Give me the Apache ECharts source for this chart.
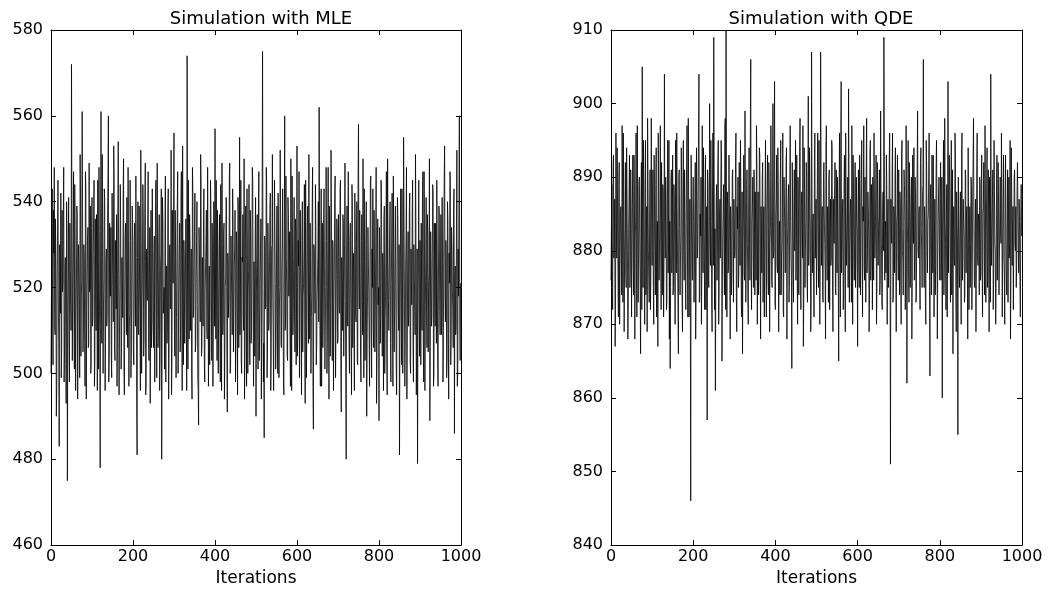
<!DOCTYPE html>
<html>
<head>
<meta charset="utf-8">
<script src="https://cdn.jsdelivr.net/npm/echarts@6/dist/echarts.min.js"></script>
<style>html,body{margin:0;padding:0;background:#fff}#c{width:1052px;height:592px}</style>
</head>
<body>
<div id="c"></div>
<script>
var titles = ['Simulation with MLE', 'Simulation with QDE'];
var xName = 'Iterations';
var xTicks = [0, 200, 400, 600, 800, 1000];
var yTicksMLE = [460, 480, 500, 520, 540, 560, 580];
var yTicksQDE = [840, 850, 860, 870, 880, 890, 900, 910];

// MLE chain, values read at even iterations (0, 2, 4, ...)
var mleEven = [
500,531,512,538,548,509,524,497,533,515,483,527,542,506,519,536,498,525,511,540,475,522,508,535,516,
572,503,529,514,544,496,521,537,508,526,499,541,518,561,505,530,512,547,494,523,534,507,519,539,502,
541,513,528,497,536,510,524,545,501,518,478,561,507,532,515,543,496,526,511,538,560,504,521,534,499,
529,512,546,503,524,537,508,554,495,520,533,506,527,542,500,517,535,509,523,548,497,514,531,505,539,
518,502,535,511,527,481,540,509,522,496,531,515,544,504,526,549,498,519,536,507,523,493,538,512,529,
506,532,517,545,499,524,510,537,503,528,480,541,514,520,534,498,525,511,543,507,530,516,495,538,521,
556,504,527,513,539,500,522,535,509,547,496,518,531,507,526,512,574,501,524,537,510,529,494,542,515,
533,505,520,540,499,488,528,512,545,506,523,536,502,519,531,510,548,497,525,514,539,503,527,516,534,
557,508,521,538,500,526,513,544,496,530,511,535,505,522,540,491,527,518,549,502,524,509,536,515,529,
498,533,512,541,506,555,520,503,527,537,510,494,531,516,543,500,524,511,538,507,526,545,497,519,532,
490,528,514,540,503,522,536,509,575,498,485,531,517,544,505,525,512,539,496,529,551,508,521,534,501,
526,513,542,499,520,537,506,530,515,495,560,511,527,504,541,518,533,497,523,546,509,528,514,536,502,
553,510,525,499,538,516,531,505,521,544,493,527,512,539,507,524,535,500,519,548,487,529,514,533,506,
522,540,562,509,526,497,535,513,543,501,520,531,507,548,494,525,511,538,503,529,516,542,499,523,534,
508,527,514,545,491,521,537,504,530,517,480,539,511,524,500,535,519,544,506,528,496,533,512,540,502,
558,515,526,498,537,509,522,543,503,530,490,518,534,507,525,546,499,520,511,538,505,527,493,532,516,
489,529,513,541,504,523,536,500,518,547,495,526,510,533,507,521,542,497,528,514,539,502,524,536,510,
481,527,515,543,500,555,519,506,532,494,524,511,538,503,529,516,545,498,522,509,535,504,479,526,513,
531,502,520,540,508,547,496,525,514,537,505,523,489,533,511,528,542,500,519,535,507,526,497,539,516,
524,509,541,498,530,553,512,527,503,536,494,521,545,508,529,515,539,486,525,511,552,500,518,560,503
];
// MLE chain, values read at odd iterations (1, 3, 5, ...)
var mleOdd = [
517,543,502,528,511,536,490,522,545,507,530,514,499,538,521,548,505,527,493,533,512,541,498,524,510,
536,519,547,501,525,512,539,494,530,516,551,504,522,538,509,527,497,543,515,531,506,549,520,500,534,
511,528,545,503,519,537,496,524,548,509,533,516,551,500,522,540,507,529,514,546,498,535,518,504,542,
520,553,506,531,515,497,538,523,509,544,501,527,513,550,495,532,519,541,506,528,511,545,499,524,536,
505,531,518,546,493,527,510,539,514,552,500,523,536,508,541,495,529,517,547,503,534,519,506,543,512,
527,498,540,513,549,506,531,496,524,543,509,535,517,501,546,522,507,538,494,529,515,552,503,526,540,
510,538,499,524,547,512,530,505,541,518,553,502,527,514,536,496,523,545,508,531,519,500,548,513,525,
542,507,531,516,496,534,520,551,504,527,511,543,498,525,538,508,530,516,502,545,521,535,497,540,511,
526,545,503,529,515,537,498,522,549,509,533,494,520,541,506,528,513,546,500,532,518,543,505,525,538,
512,530,495,537,521,509,545,500,526,514,550,505,539,497,528,519,544,502,533,510,548,515,526,504,541,
519,537,501,547,512,529,494,540,520,507,532,515,548,499,535,510,526,542,503,530,517,496,545,521,508,
539,500,528,515,552,507,524,543,498,531,510,546,519,503,537,522,508,550,496,527,514,541,505,533,520,
504,531,547,512,523,495,540,518,529,506,545,499,534,520,551,508,527,513,538,497,530,522,544,502,517,
528,512,534,497,543,519,506,537,525,510,548,500,529,515,539,504,552,518,531,496,525,546,510,536,507,
537,515,543,501,527,510,535,518,549,498,526,512,547,506,531,519,495,540,522,509,542,514,530,503,545,
521,538,504,531,517,550,499,526,512,540,507,534,519,497,545,511,529,543,506,524,515,548,501,536,520,
534,507,545,519,528,496,539,513,531,504,550,517,522,540,498,532,511,546,505,527,520,495,541,516,530,
510,543,502,528,517,536,497,525,548,509,533,514,542,500,521,537,507,530,518,551,495,529,513,545,504,
519,535,510,547,498,528,516,541,506,532,520,550,503,526,513,544,497,535,511,529,545,505,522,538,509,
537,514,526,505,545,518,531,499,540,511,528,547,502,534,519,506,543,522,509,535,497,529,541,512,521
];

// QDE chain, values read at even iterations
var qdeEven = [
876,889,872,893,881,867,896,879,885,871,892,878,886,874,890,896,869,883,877,894,880,872,888,875,891,
871,886,879,893,868,884,877,897,873,889,881,866,892,905,875,887,870,895,882,869,890,876,884,872,898,
878,891,870,885,874,894,880,867,888,876,897,872,883,889,871,904,879,886,873,895,881,868,864,890,877,
893,875,887,870,884,896,878,866,891,874,882,889,869,895,876,885,872,892,880,898,871,887,846,883,876,
890,873,885,868,894,879,888,904,874,882,870,897,877,886,872,893,880,857,889,875,900,878,884,869,896,
909,872,861,887,876,892,870,885,879,895,865,882,889,874,898,910,871,886,878,893,868,884,877,891,873,
887,880,896,869,883,875,892,878,888,871,866,885,877,899,873,889,881,870,894,876,906,872,886,879,891,
874,884,897,870,888,877,893,868,882,890,873,886,879,895,871,885,876,892,869,883,888,875,900,880,903,
872,887,878,894,869,884,890,874,881,896,871,886,877,892,868,883,889,875,897,879,864,885,873,891,880,
876,893,870,886,882,898,872,888,879,867,894,875,884,890,873,901,880,887,869,907,877,885,871,896,883,
874,889,880,895,870,907,878,886,873,892,881,868,897,876,884,890,872,887,879,894,869,883,888,875,891,
877,884,865,896,871,903,880,887,874,893,869,886,878,890,902,873,885,881,897,870,888,876,892,879,884,
867,891,875,887,882,895,871,884,878,890,873,898,880,886,869,893,876,889,872,884,896,879,887,870,892,
878,885,874,899,881,872,888,909,876,884,893,870,887,879,896,851,882,890,873,886,877,894,869,885,880,
891,874,886,870,895,879,883,889,872,897,862,884,878,892,875,887,868,893,881,876,890,873,885,899,879,
886,872,894,880,888,906,875,883,870,891,877,885,896,863,889,874,882,893,871,887,878,895,868,884,890,
876,892,879,860,887,874,898,881,885,871,903,877,889,873,895,880,866,886,878,893,869,884,855,890,875,
888,870,896,879,884,873,891,877,886,868,894,881,875,890,872,887,898,876,883,869,892,879,885,874,889,
877,893,871,886,880,897,873,888,875,891,869,884,904,878,887,872,895,881,870,889,876,892,874,885,882,
896,871,887,879,870,893,876,885,873,890,881,868,894,878,886,872,891,880,875,888,892,877,884,871,889
];
// QDE chain, values read at odd iterations
var qdeOdd = [
883,874,891,879,887,872,884,894,877,889,870,885,881,897,873,886,879,892,875,888,868,883,893,878,886,
880,893,874,888,882,896,871,885,879,890,875,887,872,884,895,878,889,874,886,898,880,873,891,877,885,
887,875,893,880,889,871,884,896,876,885,882,892,874,888,879,883,890,872,887,877,895,884,875,891,880,
874,889,881,895,877,886,872,890,883,879,894,873,887,880,891,876,884,897,871,888,882,875,893,879,886,
884,878,892,874,887,881,896,873,885,890,877,883,894,879,888,872,886,891,876,884,881,895,873,888,878,
891,883,876,889,881,895,874,887,879,892,876,885,880,897,872,884,888,877,893,880,886,874,890,882,887,
879,892,874,886,890,877,884,895,873,888,881,893,876,885,879,891,874,887,882,896,878,884,890,875,886,
888,876,891,882,874,894,880,886,877,892,884,871,889,878,885,893,874,888,881,897,876,884,879,891,873,
885,893,877,888,881,874,895,879,886,872,890,883,877,894,880,887,873,889,884,876,892,878,886,880,895,
882,877,890,874,894,879,886,883,897,873,888,880,892,876,885,878,894,882,873,889,884,876,892,879,887,
881,896,875,887,879,893,883,874,890,885,877,894,880,886,873,891,882,878,895,876,887,881,892,874,886,
890,876,888,881,894,877,885,872,889,883,896,878,884,875,891,880,887,873,886,893,879,884,875,890,882,
885,878,893,874,889,880,886,897,876,883,891,877,888,882,874,895,879,886,890,876,884,881,893,875,887,
883,891,876,888,873,886,880,894,882,877,889,884,875,892,879,887,881,896,874,885,890,878,884,893,876,
882,888,877,893,880,874,891,884,878,887,881,895,873,886,882,890,876,884,894,879,887,874,892,880,885,
878,892,883,875,889,880,886,873,895,881,884,890,876,887,880,893,877,885,882,874,891,886,879,888,881,
887,876,890,883,895,878,884,872,889,882,877,893,880,886,874,891,883,879,896,875,888,881,890,877,884,
880,893,876,887,882,874,890,885,879,894,872,886,881,889,877,892,884,875,887,880,896,878,884,890,876,
889,878,885,892,874,887,881,894,877,884,890,873,886,882,891,876,888,880,875,893,883,886,879,890,881,
885,880,893,877,888,882,874,891,884,879,895,876,887,883,872,890,881,886,878,892,880,887,876,884,882
];

// merge the even and odd readings into one chain of [iteration, value]
function chain(even, odd) {
  var out = [];
  for (var i = 0; i < even.length; i++) {
    out.push([2 * i, even[i]]);
    if (i < odd.length) out.push([2 * i + 1, odd[i]]);
  }
  return out;
}

var FONT = 'DejaVu Sans';
var grids = [
  {left: 51, top: 30, width: 410, height: 520},
  {left: 611, top: 30, width: 411, height: 520}
];
var yt = [yTicksMLE, yTicksQDE];
var xAxes = [], yAxes = [];
[0, 1].forEach(function (g) {
  ['bottom', 'top'].forEach(function (pos) {
    xAxes.push({
      gridIndex: g, type: 'value', position: pos,
      min: xTicks[0], max: xTicks[xTicks.length - 1], interval: xTicks[1] - xTicks[0],
      name: pos === 'bottom' ? xName : '', nameLocation: 'middle', nameGap: 24,
      nameTextStyle: {fontFamily: FONT, fontSize: 17, color: '#000'},
      axisLine: {show: true, onZero: false, lineStyle: {color: '#000', width: 1}},
      axisTick: {show: true, inside: true, length: 5, lineStyle: {color: '#000'}},
      axisLabel: {show: pos === 'bottom', margin: 4, fontFamily: FONT, fontSize: 16, color: '#000',
                  formatter: function (v) { return String(v); }},
      splitLine: {show: false}
    });
  });
  ['left', 'right'].forEach(function (pos) {
    var t = yt[g];
    yAxes.push({
      gridIndex: g, type: 'value', position: pos,
      min: t[0], max: t[t.length - 1], interval: t[1] - t[0],
      axisLine: {show: true, onZero: false, lineStyle: {color: '#000', width: 1}},
      axisTick: {show: true, inside: true, length: 5, lineStyle: {color: '#000'}},
      axisLabel: {show: pos === 'left', margin: 8, fontFamily: FONT, fontSize: 16, color: '#000',
                  formatter: function (v) { return String(v); }},
      splitLine: {show: false}
    });
  });
});

var chart = echarts.init(document.getElementById('c'), null, {renderer: 'canvas'});
chart.setOption({
  animation: false,
  backgroundColor: '#fff',
  title: [
    {text: titles[0], left: 256, top: 5, textAlign: 'center',
     textStyle: {fontFamily: FONT, fontSize: 18, fontWeight: 'normal', color: '#000'}},
    {text: titles[1], left: 816, top: 5, textAlign: 'center',
     textStyle: {fontFamily: FONT, fontSize: 18, fontWeight: 'normal', color: '#000'}}
  ],
  grid: grids,
  xAxis: xAxes,
  yAxis: yAxes,
  series: [
    {type: 'line', xAxisIndex: 0, yAxisIndex: 0, data: chain(mleEven, mleOdd), showSymbol: false,
     lineStyle: {color: '#000', width: 0.8}, silent: true},
    {type: 'line', xAxisIndex: 2, yAxisIndex: 2, data: chain(qdeEven, qdeOdd), showSymbol: false,
     lineStyle: {color: '#000', width: 0.8}, silent: true}
  ]
});
</script>
</body>
</html>
